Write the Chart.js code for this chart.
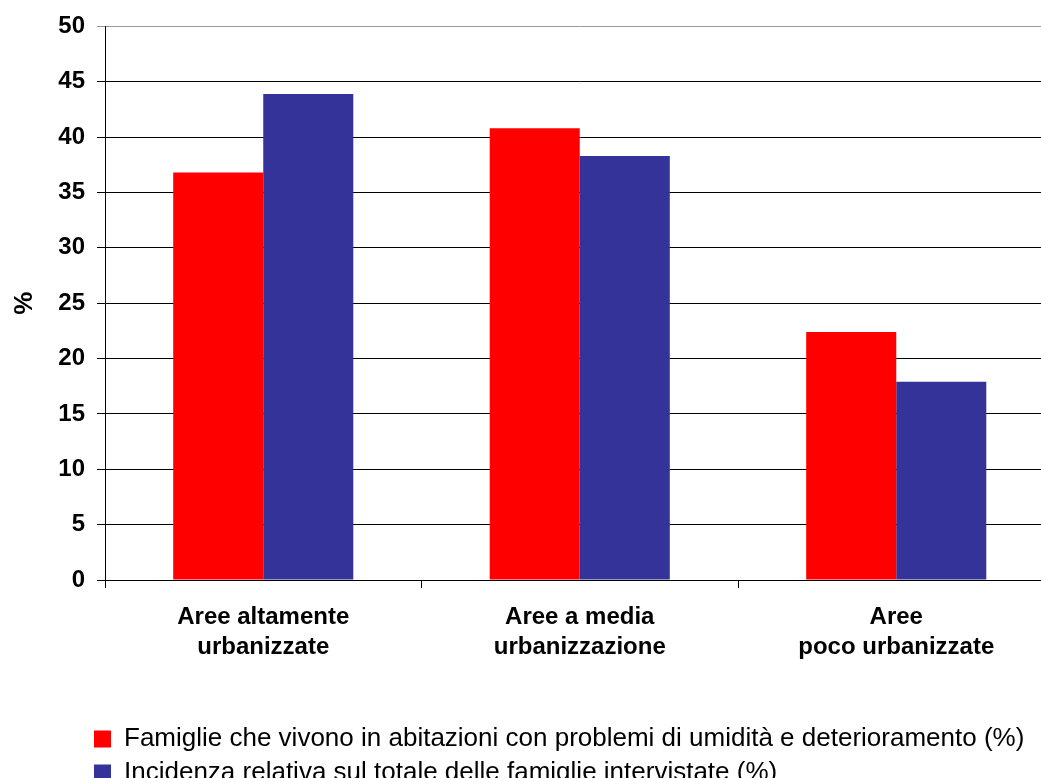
<!DOCTYPE html>
<html>
<head>
<meta charset="utf-8">
<script src="https://cdn.jsdelivr.net/npm/chart.js@4/dist/chart.umd.min.js"></script>
<style>
html,body{margin:0;padding:0;background:#fff;overflow:hidden;width:1041px;height:778px;}
canvas{position:absolute;left:0;top:0;}
</style>
</head>
<body>
<canvas id="c" width="1056" height="778"></canvas>
<script>
const categories = [
  ['Aree altamente', 'urbanizzate'],
  ['Aree a media', 'urbanizzazione'],
  ['Aree', 'poco urbanizzate']
];
const seriesNames = [
  'Famiglie che vivono in abitazioni con problemi di umidità e deterioramento (%)',
  'Incidenza relativa sul totale delle famiglie intervistate (%)'
];
const famiglieUmidita = [36.8, 40.8, 22.4];
const incidenzaRelativa = [43.9, 38.3, 17.9];
const yTicks = [0, 5, 10, 15, 20, 25, 30, 35, 40, 45, 50];

const FONT = '"Liberation Sans", Arial, sans-serif';

const legendShift = {
  id: 'legendShift',
  afterLayout(chart) {
    const l = chart.legend;
    if (!l) return;
    const w = l.right - l.left;
    const h = l.bottom - l.top;
    l.left = 86;
    l.right = 86 + w;
    l.top = 718;
    l.bottom = 718 + h;
  }
};

new Chart(document.getElementById('c'), {
  type: 'bar',
  data: {
    labels: categories,
    datasets: [
      { label: seriesNames[0], data: famiglieUmidita, backgroundColor: '#FF0000', borderWidth: 0 },
      { label: seriesNames[1], data: incidenzaRelativa, backgroundColor: '#333399', borderWidth: 0 }
    ]
  },
  options: {
    responsive: false,
    animation: false,
    devicePixelRatio: 1,
    categoryPercentage: 0.569,
    barPercentage: 1,
    layout: { padding: { top: 20, right: 1.5, bottom: 24, left: 0 } },
    plugins: {
      tooltip: { enabled: false },
      legend: {
        position: 'bottom',
        align: 'start',
        labels: {
          boxWidth: 17,
          boxHeight: 17,
          padding: 8,
          color: '#000',
          font: { family: FONT, size: 26 }
        }
      }
    },
    scales: {
      x: {
        grid: {
          display: true,
          drawOnChartArea: false,
          drawTicks: true,
          tickLength: 8,
          color: '#000',
          offset: true
        },
        border: { color: '#000', width: 1 },
        ticks: {
          color: '#000',
          maxRotation: 0,
          autoSkip: false,
          padding: 14,
          font: { family: FONT, size: 24, weight: 'bold', lineHeight: 1.25 }
        }
      },
      y: {
        min: 0,
        max: 50,
        afterBuildTicks(scale) { scale.ticks = yTicks.map(v => ({ value: v })); },
        afterFit(scale) { scale.width = 105; },
        grid: {
          color: ctx => (ctx.tick && ctx.tick.value === 50 ? '#9a9a9a' : '#000'),
          tickLength: 8,
          lineWidth: 1
        },
        border: { color: '#000', width: 1 },
        ticks: {
          color: '#000',
          padding: 12,
          font: { family: FONT, size: 24, weight: 'bold' }
        },
        title: {
          display: true,
          text: '%',
          color: '#000',
          padding: { top: 9, bottom: 0 },
          font: { family: FONT, size: 26, weight: 'bold' }
        }
      }
    }
  },
  plugins: [legendShift]
});
</script>
</body>
</html>
